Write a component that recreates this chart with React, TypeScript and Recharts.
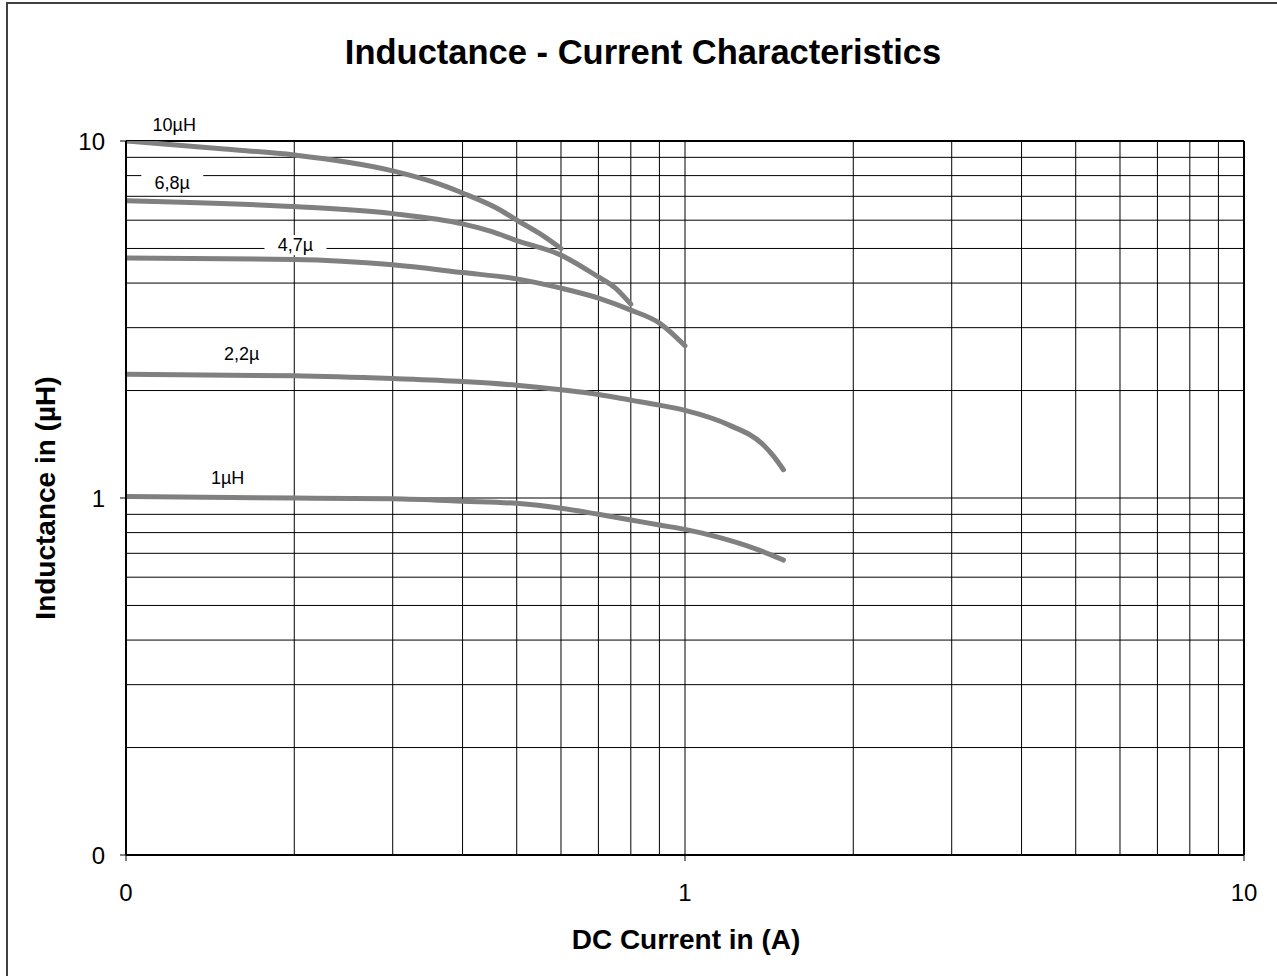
import { LineChart, Line, XAxis, YAxis, ReferenceLine, ReferenceDot } from 'recharts';

// DC current (A) / inductance (µH) per part
const current10 = [0.1, 0.15, 0.2, 0.3, 0.354, 0.4, 0.467, 0.5, 0.55, 0.6];
const ind10 = [10, 9.5, 9.14, 8.25, 7.68, 7.15, 6.41, 6.0, 5.5, 5.0];

const current68 = [0.1, 0.2, 0.3, 0.4, 0.45, 0.5, 0.6, 0.7, 0.75, 0.8];
const ind68 = [6.8, 6.55, 6.26, 5.86, 5.58, 5.26, 4.79, 4.16, 3.88, 3.49];

const current47 = [0.1, 0.2, 0.3, 0.4, 0.5, 0.6, 0.7, 0.8, 0.9, 1.0];
const ind47 = [4.7, 4.66, 4.5, 4.28, 4.11, 3.87, 3.63, 3.36, 3.09, 2.67];

const current22 = [0.1, 0.2, 0.3, 0.4, 0.5, 0.6, 0.7, 0.8, 0.9, 1.0, 1.2, 1.38, 1.44, 1.5];
const ind22 = [2.22, 2.2, 2.16, 2.12, 2.07, 2.01, 1.95, 1.88, 1.82, 1.76, 1.6, 1.41, 1.31, 1.2];

const current1 = [0.1, 0.2, 0.3, 0.4, 0.5, 0.6, 0.7, 0.8, 0.9, 1.0, 1.15, 1.33, 1.5];
const ind1 = [1.01, 1.0, 0.995, 0.98, 0.966, 0.936, 0.9, 0.868, 0.84, 0.817, 0.776, 0.723, 0.67];

// curve labels: text, anchor current, anchor inductance
const labelText = ['10µH', '6,8µ', '4,7µ', '2,2µ', '1µH'];
const labelCurrent = [0.122, 0.121, 0.201, 0.161, 0.152];
const labelInd = [11.09, 7.63, 5.11, 2.53, 1.138];

const axisTicks = [0.1, 1, 10];
const gridValues = [0.2, 0.3, 0.4, 0.5, 0.6, 0.7, 0.8, 0.9, 1, 2, 3, 4, 5, 6, 7, 8, 9];

const toRows = (xs: number[], ys: number[]) => xs.map((x, i) => ({ current: x, value: ys[i] }));

const series = [
  toRows(current10, ind10),
  toRows(current68, ind68),
  toRows(current47, ind47),
  toRows(current22, ind22),
  toRows(current1, ind1),
];

const FONT = 'Arial, "Liberation Sans", sans-serif';
const fmt = (v: number) => (v === 0.1 ? '0' : String(v));

function CurveLabel(props: any, text: string) {
  const { cx, cy } = props;
  const w = text.length * 10 + 22;
  return (
    <g>
      <rect x={cx - w / 2} y={cy - 10} width={w} height={20} fill="#fff" />
      <text x={cx} y={cy} dy="0.35em" textAnchor="middle" fontSize={18} fontFamily={FONT} fill="#000">
        {text}
      </text>
    </g>
  );
}

export default function App() {
  return (
    <div style={styles.page}>
      <div style={styles.frame} />
      <div style={styles.title}>Inductance - Current Characteristics</div>
      <div style={styles.xLabel}>DC Current in (A)</div>
      <div style={styles.yLabel}>Inductance in (µH)</div>
      <div style={{ position: 'absolute', left: 0, top: 0 }}>
        <LineChart width={1277} height={976} margin={{ top: 141, right: 33, bottom: 61, left: 66 }}>
          <XAxis
            dataKey="current" type="number" scale="log" domain={[0.1, 10]} allowDataOverflow
            ticks={axisTicks} interval={0} tickFormatter={fmt} height={60}
            tickSize={6} tickMargin={23}
            tick={{ fill: '#000', fontSize: 24, fontFamily: FONT }}
            axisLine={{ stroke: '#000', strokeWidth: 2 }} tickLine={{ stroke: '#000' }}
          />
          <YAxis
            dataKey="value" type="number" scale="log" domain={[0.1, 10]} allowDataOverflow
            ticks={axisTicks} interval={0} tickFormatter={fmt} width={60}
            tickSize={6} tickMargin={15}
            tick={{ fill: '#000', fontSize: 24, fontFamily: FONT }}
            axisLine={{ stroke: '#000', strokeWidth: 2 }} tickLine={{ stroke: '#000' }}
          />
          {gridValues.map((v) => (
            <ReferenceLine key={'x' + v} x={v} stroke="#000" strokeWidth={1} />
          ))}
          {gridValues.map((v) => (
            <ReferenceLine key={'y' + v} y={v} stroke="#000" strokeWidth={1} />
          ))}
          <ReferenceLine x={10} stroke="#000" strokeWidth={2} />
          <ReferenceLine y={10} stroke="#000" strokeWidth={2} />
          {labelText.map((t, i) => (
            <ReferenceDot
              key={t} x={labelCurrent[i]} y={labelInd[i]} r={0} ifOverflow="visible"
              shape={(p: any) => CurveLabel(p, t)}
            />
          ))}
          {series.map((d, i) => (
            <Line
              key={i} data={d} dataKey="value" type="monotone" stroke="#808080" strokeWidth={5}
              strokeLinecap="round" dot={false} activeDot={false} isAnimationActive={false}
            />
          ))}
        </LineChart>
      </div>
    </div>
  );
}

const styles: Record<string, React.CSSProperties> = {
  page: {
    position: 'absolute', left: 0, top: 0, width: 1277, height: 976,
    overflow: 'hidden', background: '#fff', fontFamily: FONT,
  },
  frame: {
    position: 'absolute', left: 6, top: 2, width: 1400, height: 1100,
    borderLeft: '2px solid #404040', borderTop: '2px solid #404040',
  },
  title: {
    position: 'absolute', left: 643, top: 52, transform: 'translate(-50%, -50%)',
    fontSize: 34.5, fontWeight: 700, whiteSpace: 'nowrap', lineHeight: 1,
  },
  xLabel: {
    position: 'absolute', left: 686, top: 940, transform: 'translate(-50%, -50%)',
    fontSize: 28, fontWeight: 700, whiteSpace: 'nowrap', lineHeight: 1,
  },
  yLabel: {
    position: 'absolute', left: 46, top: 498, transform: 'translate(-50%, -50%) rotate(-90deg)',
    fontSize: 28, fontWeight: 700, whiteSpace: 'nowrap', lineHeight: 1,
  },
};
